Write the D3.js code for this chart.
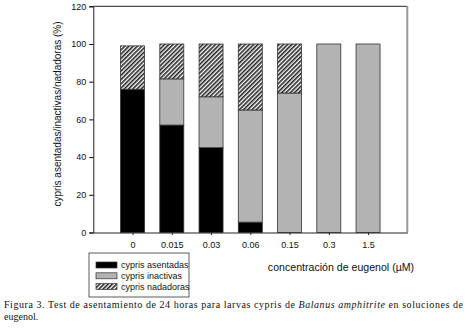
<!DOCTYPE html>
<html>
<head>
<meta charset="utf-8">
<script src="https://cdn.jsdelivr.net/npm/d3@7"></script>
<style>
  body { margin: 0; background: #fff; }
  svg { display: block; }
  .tick text { font: 9px "Liberation Sans", Arial, sans-serif; fill: #111; }
  .lbl { font: 10px "Liberation Sans", Arial, sans-serif; fill: #111; }
  .xlbl { font: 10.6px "Liberation Sans", Arial, sans-serif; fill: #111; }
  .leg { font: 9px "Liberation Sans", Arial, sans-serif; fill: #111; }
  .cap { font: 10px "Liberation Serif", "Times New Roman", serif; fill: #111; }
</style>
</head>
<body>
<svg id="chart" width="467" height="332"></svg>
<script>
// --- data (percent) ---
const concentrations = ["0", "0.015", "0.03", "0.06", "0.15", "0.3", "1.5"];
const asentadas  = [76, 57, 45, 5.5, 0, 0, 0];
const inactivas  = [0, 24.5, 27, 59.5, 74, 100, 100];
const nadadoras  = [23, 18.5, 28, 35, 26, 0, 0];
const yTicks = [0, 20, 40, 60, 80, 100, 120];
const seriesNames = ["cypris asentadas", "cypris inactivas", "cypris nadadoras"];

const rows = concentrations.map((c, i) => ({
  c, asentadas: asentadas[i], inactivas: inactivas[i], nadadoras: nadadoras[i]
}));
const keys = ["asentadas", "inactivas", "nadadoras"];

const svg = d3.select("#chart");
const plotL = 93.3, plotR = 407.3, plotT = 6.3, plotB = 232.5;

// hatch for the swimmers
const defs = svg.append("defs");
const pat = defs.append("pattern")
  .attr("id", "hatch")
  .attr("patternUnits", "userSpaceOnUse")
  .attr("width", 3).attr("height", 3)
  .attr("patternTransform", "rotate(45)");
pat.append("rect").attr("width", 3).attr("height", 3).attr("fill", "#fff");
pat.append("rect").attr("width", 1.6).attr("height", 3).attr("fill", "#222");

const fills = { asentadas: "#000", inactivas: "#b3b3b3", nadadoras: "url(#hatch)" };

const x = d3.scalePoint().domain(concentrations).range([plotL, plotR]).padding(1);
const y = d3.scaleLinear().domain([0, 120]).range([plotB, plotT]);
const barW = 24;

// frame (top dark, right grey)
svg.append("line").attr("x1", plotL).attr("x2", plotR).attr("y1", plotT).attr("y2", plotT)
  .attr("stroke", "#222").attr("stroke-width", 1);
svg.append("line").attr("x1", plotR).attr("x2", plotR).attr("y1", plotT).attr("y2", plotB)
  .attr("stroke", "#999").attr("stroke-width", 2);

// bars
const stacked = d3.stack().keys(keys)(rows);
svg.append("g").selectAll("g")
  .data(stacked)
  .join("g")
    .attr("fill", d => fills[d.key])
  .selectAll("rect")
  .data(d => d.filter(s => s[1] - s[0] > 0))
  .join("rect")
    .attr("x", d => x(d.data.c) - barW / 2)
    .attr("width", barW)
    .attr("y", d => y(d[1]))
    .attr("height", d => y(d[0]) - y(d[1]))
    .attr("stroke", "#333")
    .attr("stroke-width", 0.8);

// axes
const yAxis = svg.append("g")
  .attr("transform", `translate(${plotL},0)`)
  .call(d3.axisLeft(y).tickValues(yTicks).tickSize(4).tickPadding(3));
yAxis.select(".domain").attr("stroke", "#222");

const xAxis = svg.append("g")
  .attr("transform", `translate(0,${plotB})`)
  .call(d3.axisBottom(x).tickSize(2.5).tickPadding(7).tickSizeOuter(0));
xAxis.select(".domain").attr("stroke", "#222");
xAxis.selectAll(".tick line").attr("stroke", "#222");

// axis titles
svg.append("text").attr("class", "lbl")
  .attr("transform", "translate(61,114) rotate(-90)")
  .attr("text-anchor", "middle")
  .text("cypris asentadas/inactivas/nadadoras (%)");

svg.append("text").attr("class", "xlbl")
  .attr("x", 341).attr("y", 271)
  .attr("text-anchor", "middle")
  .text("concentración de eugenol (µM)");

// legend
const leg = svg.append("g").attr("transform", "translate(89,253)");
leg.append("rect").attr("width", 100).attr("height", 44)
  .attr("fill", "#fff").attr("stroke", "#333").attr("stroke-width", 0.8);
leg.selectAll("g.item")
  .data(keys)
  .join("g")
    .attr("class", "item")
    .attr("transform", (d, i) => `translate(7,${12 + i * 10.8})`)
    .call(g => g.append("rect")
      .attr("y", -3).attr("width", 21).attr("height", 6)
      .attr("fill", d => fills[d]).attr("stroke", "#333").attr("stroke-width", 0.7))
    .call(g => g.append("text").attr("class", "leg")
      .attr("x", 25).attr("y", 3.2)
      .text((d, i) => seriesNames[i]));

// caption
const cap = svg.append("text").attr("class", "cap")
  .attr("x", 4).attr("y", 308)
  .attr("textLength", 459).attr("lengthAdjust", "spacing");
cap.append("tspan").text("Figura 3. Test de asentamiento de 24 horas para larvas cypris de ");
cap.append("tspan").attr("font-style", "italic").text("Balanus amphitrite");
cap.append("tspan").text(" en soluciones de");
svg.append("text").attr("class", "cap").attr("x", 4).attr("y", 320).text("eugenol.");
</script>
</body>
</html>
